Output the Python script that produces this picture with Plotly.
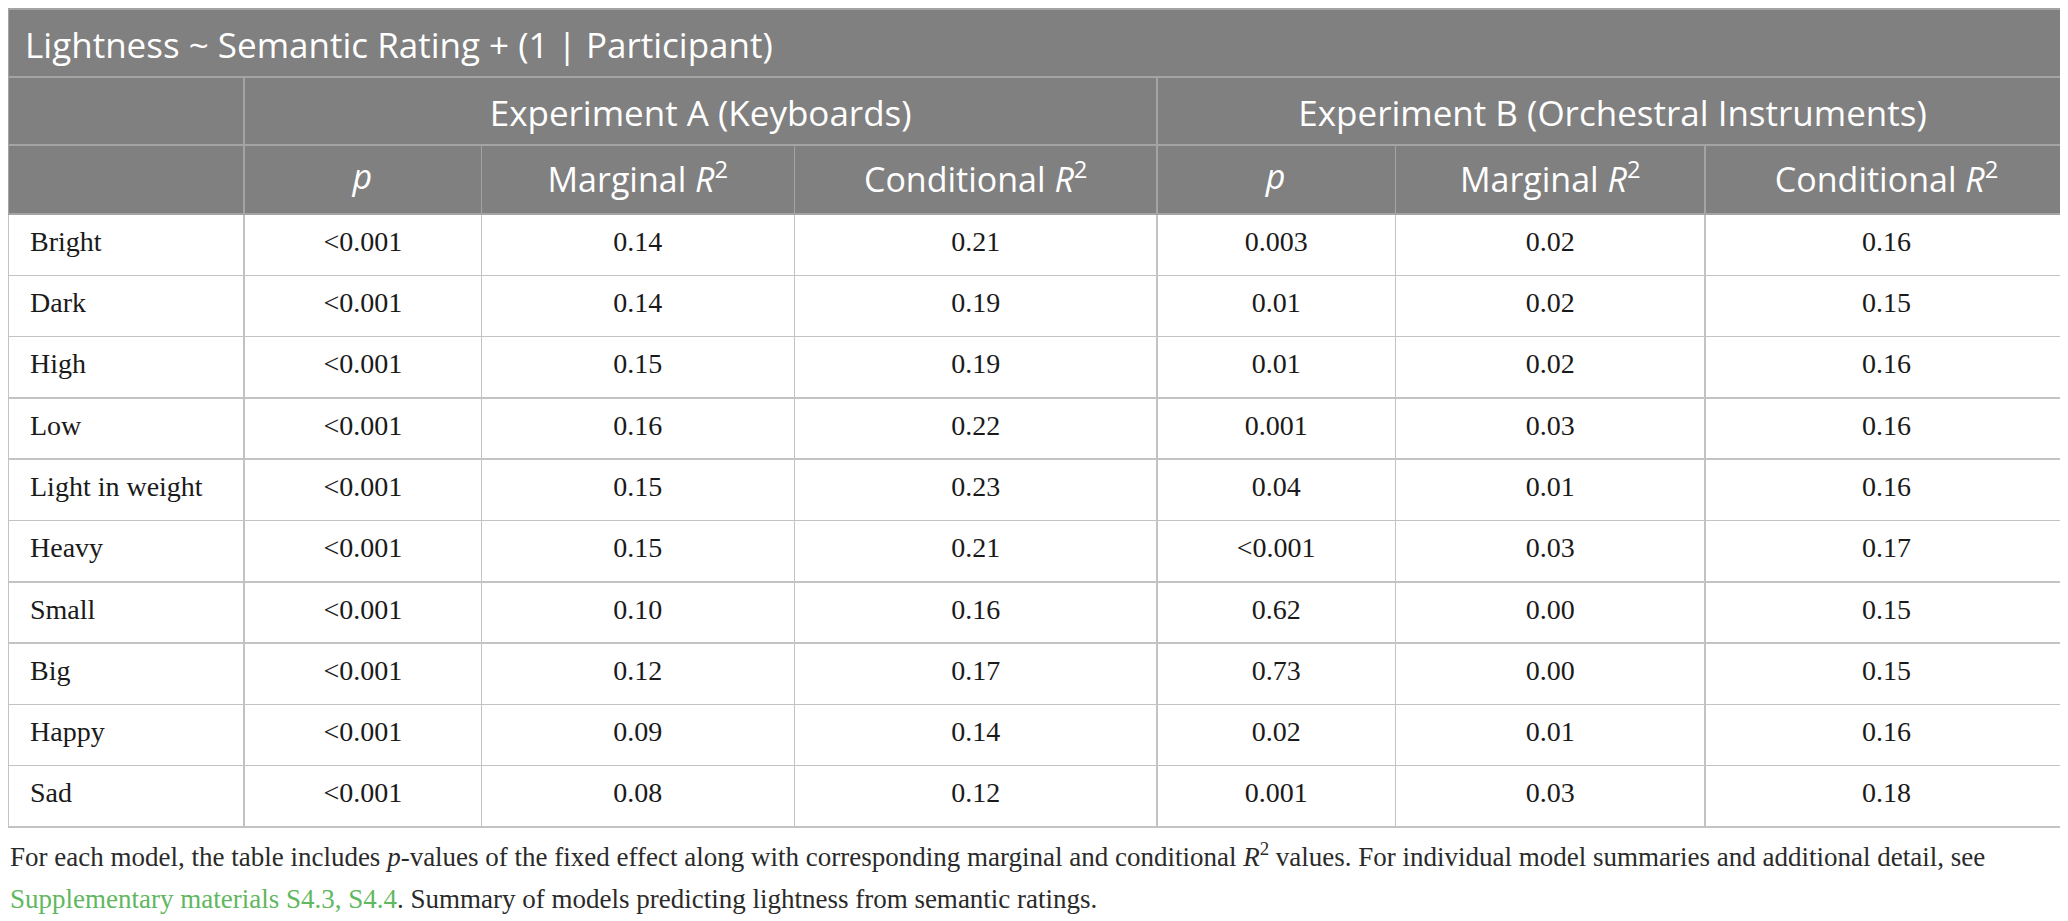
import plotly.graph_objects as go

# table content
title = "Lightness ~ Semantic Rating + (1 | Participant)"
experiments = ["", "Experiment A (Keyboards)", "Experiment B (Orchestral Instruments)"]
col_heads = ["", "<i>p</i>", "Marginal <i>R</i><sup>2</sup>", "Conditional <i>R</i><sup>2</sup>",
             "<i>p</i>", "Marginal <i>R</i><sup>2</sup>", "Conditional <i>R</i><sup>2</sup>"]
ratings = ["Bright", "Dark", "High", "Low", "Light in weight", "Heavy", "Small", "Big", "Happy", "Sad"]
a_p = ["<0.001"] * 10
a_marg = ["0.14", "0.14", "0.15", "0.16", "0.15", "0.15", "0.10", "0.12", "0.09", "0.08"]
a_cond = ["0.21", "0.19", "0.19", "0.22", "0.23", "0.21", "0.16", "0.17", "0.14", "0.12"]
b_p = ["0.003", "0.01", "0.01", "0.001", "0.04", "<0.001", "0.62", "0.73", "0.02", "0.001"]
b_marg = ["0.02", "0.02", "0.02", "0.03", "0.01", "0.03", "0.00", "0.00", "0.01", "0.03"]
b_cond = ["0.16", "0.15", "0.16", "0.16", "0.16", "0.17", "0.15", "0.15", "0.16", "0.18"]

# the page body keeps its 8px margin, so the figure is 8px smaller each way
OFF = 8
W, H = 2068 - OFF, 921 - OFF
GREY = "#7f807f"
HLINE = "#a3a4a3"
BLINE = "#c3c3c3"
SANS = "Open Sans"
SERIF = "Liberation Serif"
pad = "\u00a0"
# table text sits at the top of the cell; a blank superscript nudges it down
up = "<sup>\u00a0</sup>"

def both(v):
    return up + v + up

def ydom(top, bottom):
    # top/bottom in page pixels of the reference
    return [1 - (bottom - OFF) / H, 1 - (top - OFF) / H]

fig = go.Figure()

# title row
fig.add_trace(go.Table(
    domain=dict(x=[0, 1], y=ydom(9, 77)),
    columnwidth=[1],
    header=dict(values=[pad + title + up], fill_color=GREY, line=dict(color=HLINE, width=1.5),
                font=dict(family=SANS, size=35, color="white"), align="left", height=68),
    cells=dict(values=[[]]),
))

# experiment row
fig.add_trace(go.Table(
    domain=dict(x=[0, 1], y=ydom(77, 145)),
    columnwidth=[237, 916, 914],
    header=dict(values=[both(e) for e in experiments], fill_color=GREY,
                line=dict(color=HLINE, width=1.5),
                font=dict(family=SANS, size=35, color="white"), align="center", height=68),
    cells=dict(values=[[], [], []]),
))

# column heads + body
body = [[pad + pad + r + up for r in ratings]]
for col in [a_p, a_marg, a_cond, b_p, b_marg, b_cond]:
    body.append([both(v) for v in col])
fig.add_trace(go.Table(
    domain=dict(x=[0, 1], y=ydom(145, 829)),
    columnwidth=[237, 238, 314, 364, 239, 311, 364],
    header=dict(values=col_heads, fill_color=GREY, line=dict(color=HLINE, width=1.5),
                font=dict(family=SANS, size=34, color="white"), align="center", height=69),
    cells=dict(values=body, fill_color="white", line=dict(color=BLINE, width=1.5),
               font=dict(family=SERIF, size=28, color="#1a1a1a"),
               align=["left"] + ["center"] * 6, height=61.3),
))

note1 = ("For each model, the table includes <i>p</i>-values of the fixed effect along with corresponding "
         "marginal and conditional <i>R</i><sup>2</sup> values. For individual model summaries and additional detail, see")
note2 = ("<span style='color:#5fb760'>Supplementary materials S4.3, S4.4</span>. "
         "Summary of models predicting lightness from semantic ratings.")
fig.add_annotation(text=note1, x=0, y=1 - (855 - OFF) / H, xref="paper", yref="paper",
                   xanchor="left", yanchor="middle", showarrow=False,
                   font=dict(family=SERIF, size=27, color="#2a2a2a"))
fig.add_annotation(text=note2, x=0, y=1 - (899 - OFF) / H, xref="paper", yref="paper",
                   xanchor="left", yanchor="middle", showarrow=False,
                   font=dict(family=SERIF, size=27, color="#2a2a2a"))

fig.update_layout(width=W, height=H, margin=dict(l=0, r=0, t=0, b=0),
                  paper_bgcolor="white", plot_bgcolor="white")
fig.write_html("out.html", config=dict(displayModeBar=False))
